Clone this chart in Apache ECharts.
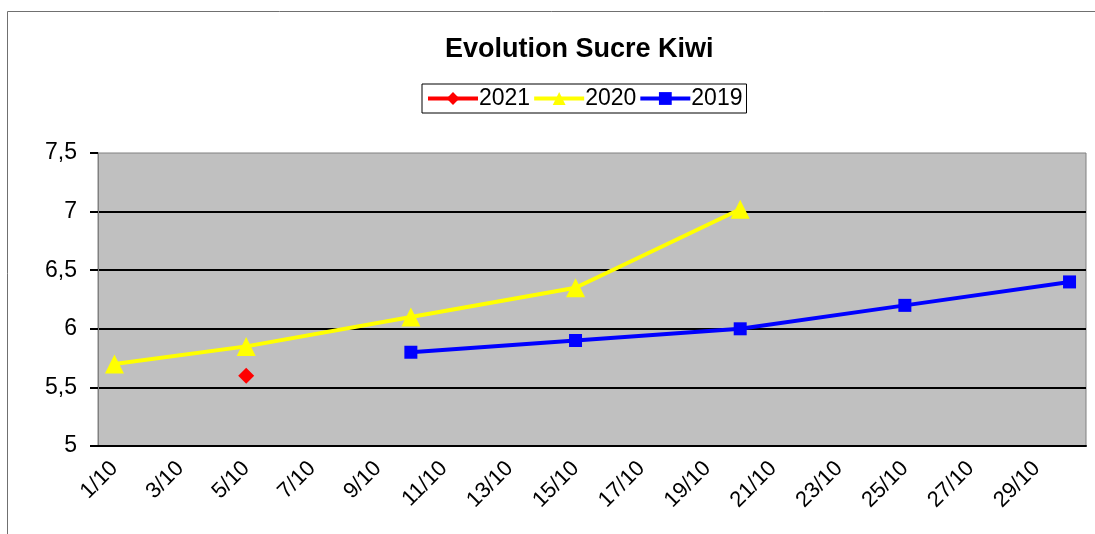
<!DOCTYPE html>
<html>
<head>
<meta charset="utf-8">
<script src="https://cdn.jsdelivr.net/npm/echarts@6/dist/echarts.min.js"></script>
<style>
  html, body { margin: 0; padding: 0; background: #fff; }
  #chart { width: 1095px; height: 534px; }
</style>
</head>
<body>
<div id="chart"></div>
<script>
// days of October, one category per day
const days = ['1/10', '2/10', '3/10', '4/10', '5/10', '6/10', '7/10', '8/10', '9/10', '10/10',
  '11/10', '12/10', '13/10', '14/10', '15/10', '16/10', '17/10', '18/10', '19/10', '20/10',
  '21/10', '22/10', '23/10', '24/10', '25/10', '26/10', '27/10', '28/10', '29/10', '30/10'];

// measurements [day, value]
const sucre2021 = [['5/10', 5.6]];
const sucre2020 = [['1/10', 5.7], ['5/10', 5.85], ['10/10', 6.1], ['15/10', 6.35], ['20/10', 7.02]];
const sucre2019 = [['10/10', 5.8], ['15/10', 5.9], ['20/10', 6.0], ['25/10', 6.2], ['30/10', 6.4]];

const yTicks = [5, 5.5, 6, 6.5, 7, 7.5];

const font = "'Liberation Sans', Arial, sans-serif";

const chart = echarts.init(document.getElementById('chart'));

function line(name, color, symbol, size, data) {
  return {
    name: name,
    type: 'line',
    data: data,
    connectNulls: true,
    symbol: symbol,
    symbolSize: size,
    itemStyle: { color: color },
    lineStyle: { color: color, width: 4 },
    emphasis: { disabled: true }
  };
}

chart.setOption({
  animation: false,
  backgroundColor: '#fff',
  graphic: [{
    type: 'rect',
    shape: { x: 7.5, y: 11.5, width: 1200, height: 600 },
    style: { fill: 'none', stroke: '#707070', lineWidth: 1 }
  }],
  title: {
    text: 'Evolution Sucre Kiwi',
    left: 440,
    top: 31,
    textStyle: { fontFamily: font, fontSize: 27, fontWeight: 'bold', color: '#000' }
  },
  legend: {
    data: ['2021', '2020', '2019'],
    left: 422,
    top: 84,
    padding: [3, 4, 3, 4],
    itemGap: 2,
    itemWidth: 50,
    itemHeight: 16,
    borderColor: '#000',
    borderWidth: 1,
    backgroundColor: '#fff',
    lineStyle: { width: 4 },
    textStyle: { fontFamily: font, fontSize: 23, color: '#000', padding: [0, 0, 0, -4] }
  },
  grid: {
    show: true,
    left: 98,
    right: 9,
    top: 153,
    bottom: 88,
    backgroundColor: '#c0c0c0',
    borderColor: '#808080',
    borderWidth: 1
  },
  xAxis: {
    type: 'category',
    data: days,
    boundaryGap: true,
    axisLine: { lineStyle: { color: '#000', width: 2 } },
    axisTick: { interval: 1, length: 7, lineStyle: { color: '#000', width: 2 } },
    axisLabel: {
      interval: 1,
      rotate: 45,
      margin: 19,
      fontFamily: font,
      fontSize: 22,
      color: '#000'
    },
    splitLine: { show: false }
  },
  yAxis: {
    type: 'value',
    min: yTicks[0],
    max: yTicks[yTicks.length - 1],
    interval: 0.5,
    axisLine: { show: true, lineStyle: { color: '#808080', width: 1 } },
    axisTick: { show: true, length: 8, lineStyle: { color: '#000', width: 2 } },
    axisLabel: {
      margin: 21,
      fontFamily: font,
      fontSize: 23,
      color: '#000',
      formatter: v => String(v).replace('.', ',')
    },
    splitLine: { show: true, showMaxLine: false, lineStyle: { color: '#000', width: 2 } }
  },
  series: [
    line('2021', '#ff0000', 'diamond', 16, sucre2021),
    line('2020', '#ffff00', 'triangle', 19, sucre2020),
    line('2019', '#0000ff', 'rect', 13, sucre2019)
  ]
});
</script>
</body>
</html>
